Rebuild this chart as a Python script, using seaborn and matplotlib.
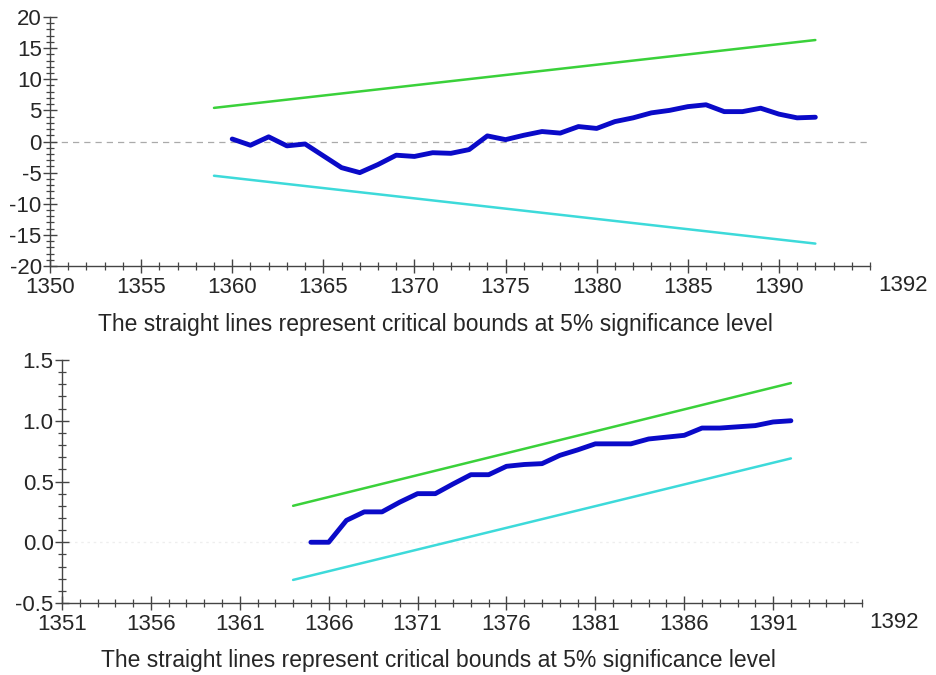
import numpy as np
import pandas as pd
import matplotlib.pyplot as plt
import seaborn as sns
from matplotlib.ticker import MultipleLocator

# CUSUM (top panel)
cusum_years = list(range(1360, 1393))
cusum_values = [0.4, -0.6, 0.75, -0.7, -0.4, -2.3, -4.2, -5.0, -3.7, -2.2,
                -2.4, -1.8, -1.9, -1.3, 0.9, 0.3, 1.0, 1.6, 1.35, 2.4,
                2.1, 3.2, 3.8, 4.6, 5.0, 5.6, 5.9, 4.8, 4.8, 5.35,
                4.4, 3.8, 3.9]
cusum_bound_years = [1359, 1392]
cusum_upper = [5.4, 16.3]
cusum_lower = [-5.5, -16.4]

# CUSUM of squares (bottom panel)
cusumsq_years = list(range(1365, 1393))
cusumsq_values = [0.0, 0.0, 0.18, 0.25, 0.25, 0.33, 0.40, 0.40, 0.48, 0.556,
                  0.556, 0.625, 0.64, 0.647, 0.715, 0.76, 0.81, 0.81, 0.81, 0.85,
                  0.865, 0.88, 0.94, 0.94, 0.95, 0.96, 0.99, 1.0]
cusumsq_bound_years = [1364, 1392]
cusumsq_upper = [0.30, 1.31]
cusumsq_lower = [-0.31, 0.69]

caption = "The straight lines represent critical bounds at 5% significance level"

sns.set_style("white")
plt.rcParams['font.family'] = ['Liberation Sans', 'DejaVu Sans']
plt.rcParams['axes.unicode_minus'] = False

BLUE = "#0a0ac8"
GREEN = "#3ad13a"
CYAN = "#3ddada"


def draw_panel(ax, years, values, byears, upper, lower, xlim, ylim, xmaj, ymaj, ymin):
    sns.lineplot(x=byears, y=upper, color=GREEN, lw=1.8, ax=ax)
    sns.lineplot(x=byears, y=lower, color=CYAN, lw=1.8, ax=ax)
    sns.lineplot(x=years, y=values, color=BLUE, lw=3.5, ax=ax)
    ax.set_xlim(*xlim)
    ax.set_ylim(*ylim)
    ax.xaxis.set_major_locator(MultipleLocator(xmaj))
    ax.xaxis.set_minor_locator(MultipleLocator(1))
    ax.yaxis.set_major_locator(MultipleLocator(ymaj))
    ax.yaxis.set_minor_locator(MultipleLocator(ymin))
    for s in ["top", "right"]:
        ax.spines[s].set_visible(False)
    for s in ["left", "bottom"]:
        ax.spines[s].set_color("#444444")
        ax.spines[s].set_linewidth(1.0)
    ax.tick_params(axis="both", which="major", direction="inout", length=10,
                   width=1.0, color="#444444", labelsize=16, pad=1)
    ax.tick_params(axis="x", which="major", pad=3)
    ax.tick_params(axis="both", which="minor", direction="inout", length=6,
                   width=0.9, color="#444444")
    ax.tick_params(axis="both", which="both", bottom=True, left=True)
    ax.set_xlabel("")
    ax.set_ylabel("")


fig = plt.figure(figsize=(9.36, 6.75), dpi=100)

ax1 = fig.add_axes([50 / 936, (675 - 266) / 675, 820 / 936, 249 / 675])
draw_panel(ax1, cusum_years, cusum_values, cusum_bound_years, cusum_upper,
           cusum_lower, (1350, 1395), (-20, 20), 5, 5, 1)
ax1.set_xticks(range(1350, 1395, 5))
ax1.axhline(0, color="#aaaaaa", lw=0.9, ls=(0, (5, 4)), zorder=0)
ax1.text(1.04, -0.08, "1392", transform=ax1.transAxes, ha="center", va="center",
         fontsize=16)
ax1.text(0.47, -0.235, caption, transform=ax1.transAxes, ha="center",
         va="center", fontsize=16.5)

ax2 = fig.add_axes([62 / 936, (675 - 603) / 675, 800 / 936, 243 / 675])
draw_panel(ax2, cusumsq_years, cusumsq_values, cusumsq_bound_years, cusumsq_upper,
           cusumsq_lower, (1351, 1396), (-0.5, 1.5), 5, 0.5, 0.1)
ax2.set_xticks(range(1351, 1396, 5))
ax2.yaxis.set_major_formatter(plt.FormatStrFormatter("%.1f"))
ax2.axhline(0, color="#eeeeee", lw=0.9, ls=(0, (2, 3)), zorder=0)
ax2.text(1.04, -0.08, "1392", transform=ax2.transAxes, ha="center", va="center",
         fontsize=16)
ax2.text(0.47, -0.235, caption, transform=ax2.transAxes, ha="center",
         va="center", fontsize=16.5)

fig.savefig("out.png", dpi=100)
